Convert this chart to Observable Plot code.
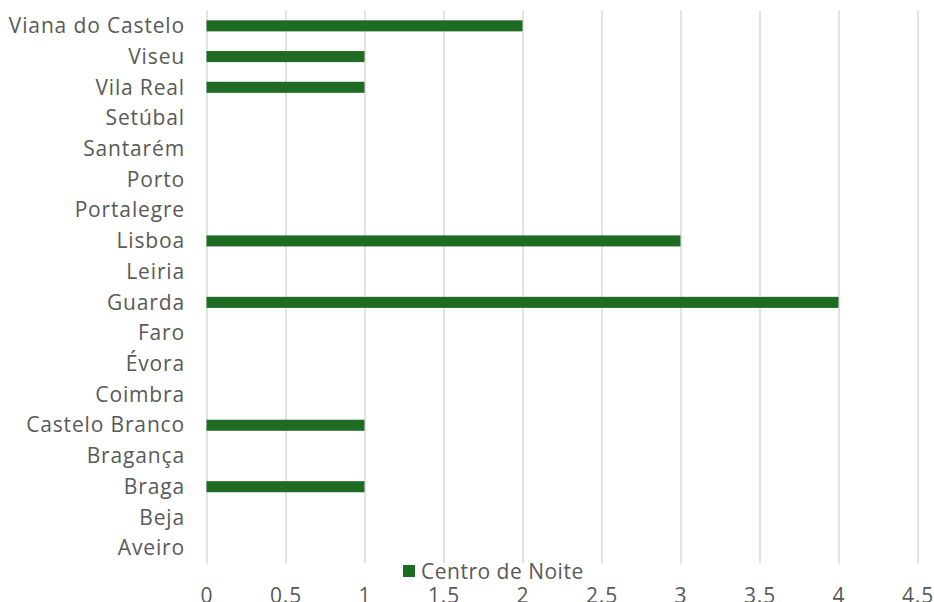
<!DOCTYPE html>
<html>
<head>
<meta charset="utf-8">
<script src="https://cdn.jsdelivr.net/npm/d3@7"></script>
<script src="https://cdn.jsdelivr.net/npm/@observablehq/plot@0.6"></script>
<style>
  body { margin: 0; background: #fff; }
  #wrap { position: relative; width: 934px; height: 602px; font-family: "Open Sans", sans-serif; }
  #legend { position: absolute; left: 403px; top: 557px; font-size: 21px; letter-spacing: 0.5px; color: #595959; display: flex; align-items: center; }
  #legend .sw { width: 12px; height: 12px; background: #1e6b24; margin-right: 6px; }
  svg text { letter-spacing: 0.85px; }
</style>
</head>
<body>
<div id="wrap"><div id="legend"><span class="sw"></span><span>Centro de Noite</span></div></div>
<script>
const categories = ["Viana do Castelo","Viseu","Vila Real","Setúbal","Santarém","Porto","Portalegre","Lisboa","Leiria","Guarda","Faro","Évora","Coimbra","Castelo Branco","Bragança","Braga","Beja","Aveiro"];
const values = [2,1,1,0,0,0,0,3,0,4,0,0,0,1,0,1,0,0];
const xTicks = [0,0.5,1,1.5,2,2.5,3,3.5,4,4.5];
const xTickLabels = ["0","0.5","1","1.5","2","2.5","3","3.5","4","4.5"];
const seriesName = "Centro de Noite";

const data = categories.map((c, i) => ({category: c, value: values[i]}));
const fmt = (d) => xTickLabels[xTicks.indexOf(d)];

const chart = Plot.plot({
  width: 934,
  height: 602,
  marginLeft: 206.5,
  marginRight: 16.5,
  marginTop: 10.5,
  marginBottom: 38.5,
  style: {fontFamily: "Open Sans, sans-serif", fontSize: "21px", color: "#595959", background: "#fff"},
  x: {domain: [0, 4.5], ticks: xTicks, tickFormat: fmt, label: null},
  y: {domain: categories, label: null, paddingInner: 0.64, paddingOuter: 0.32, round: false},
  marks: [
    Plot.gridX(xTicks, {stroke: "#d9d9d9", strokeOpacity: 1, strokeWidth: 1.5}),
    Plot.barX(data.filter(d => d.value > 0), {x: "value", y: "category", fill: "#1e6b24"}),
    Plot.axisX({ticks: xTicks, tickFormat: fmt, tickSize: 0, tickPadding: 24, label: null, fill: "#595959"}),
    Plot.axisY({tickSize: 0, tickPadding: 22, label: null, fill: "#595959"})
  ]
});
document.getElementById("wrap").prepend(chart);
</script>
</body>
</html>
